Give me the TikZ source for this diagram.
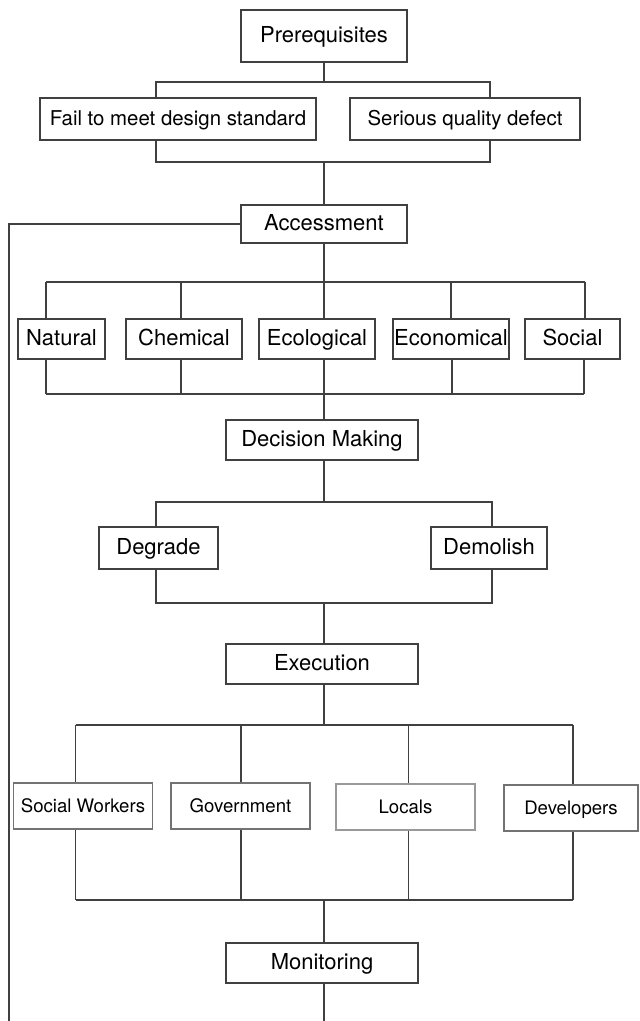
\documentclass[tikz,border=0pt]{standalone}
\usepackage{fontspec}
\setmainfont{TeX Gyre Heros}
\usetikzlibrary{calc,positioning}
\tikzset{
  box/.style={draw=black!75, line width=0.6pt, inner sep=0pt, minimum height=20pt,
    text height=1.55ex, text depth=0.35ex, font=\fontsize{11}{13}\selectfont},
  subbox/.style={box, font=\fontsize{10.2}{12}\selectfont},
  actorbox/.style={box, draw=black!55, minimum height=23pt, font=\fontsize{9.3}{11}\selectfont},
  link/.style={draw=black!75, line width=0.6pt},
}
\begin{document}
\begin{tikzpicture}[x=0.5pt,y=-0.5pt]
\useasboundingbox (0,0) rectangle (640,1021);
% boxes
\node[box, minimum width=83pt, minimum height=26pt] (pre) at (324,36) {Prerequisites};
\node[subbox, minimum width=138pt, minimum height=21pt] (fail) at (178,119) {Fail to meet design standard};
\node[subbox, minimum width=115pt, minimum height=21pt] (ser) at (465,119) {Serious quality defect};
\node[box, minimum width=83pt, minimum height=19pt] (acc) at (324,224) {Accessment};
\node[box, minimum width=43.5pt] (nat) at (61.5,339) {Natural};
\node[box, minimum width=58pt] (chem) at (184,339) {Chemical};
\node[box, minimum width=58pt] (eco) at (317,339) {Ecological};
\node[box, minimum width=58pt] (econ) at (451,339) {Economical};
\node[box, minimum width=47.5pt] (soc) at (572.5,339) {Social};
\node[box, minimum width=96pt] (dec) at (322,440) {Decision Making};
\node[box, minimum width=59.5pt, minimum height=21pt] (deg) at (158.5,548) {Degrade};
\node[box, minimum width=58pt, minimum height=21pt] (dem) at (489,548) {Demolish};
\node[box, minimum width=96pt] (exe) at (322,664) {Execution};
\node[actorbox, minimum width=69.5pt] (sw) at (83,806) {Social Workers};
\node[actorbox, minimum width=69.5pt] (gov) at (240.5,806) {Government};
\node[actorbox, draw=black!40, minimum width=69.5pt] (loc) at (405.5,807) {Locals};
\node[actorbox, minimum width=67pt] (dev) at (571,808) {Developers};
\node[box, minimum width=96pt] (mon) at (322,963) {Monitoring};
% bus points on the main line
\coordinate (t1) at (324,82);  \coordinate (u1) at (324,162);
\coordinate (t2) at (324,282); \coordinate (u2) at (324,394);
\coordinate (t3) at (324,502); \coordinate (u3) at (324,603);
\coordinate (t4) at (324,725); \coordinate (u4) at (324,900);
\coordinate (tail) at (324,1021);
\coordinate (back) at (9,1021);
% level 1
\draw[link] (pre.south) -- (t1);
\draw[link] (156,82 |- fail.north) |- (t1) -| (490,82 |- ser.north);
\draw[link] (156,82 |- fail.south) |- (u1) -| (490,82 |- ser.south);
\draw[link] (u1) -- (u1 |- acc.north);
\draw[link] (acc.west) -| (back);
% level 2
\draw[link] (acc.south) -- (t2);
\draw[link] (46,0 |- t2) -- (585,0 |- t2);
\draw[link] (46,0 |- u2) -- (584,0 |- u2);
\foreach \x/\n in {46/nat,181/chem,324/eco,451/econ,585/soc}
  \draw[link] (\x,0 |- t2) -- (\x,0 |- \n.north);
\foreach \x/\n in {46/nat,181/chem,324/eco,452/econ,584/soc}
  \draw[link] (\x,0 |- \n.south) -- (\x,0 |- u2);
\draw[link] (u2) -- (u2 |- dec.north);
% level 3
\draw[link] (t3 |- dec.south) -- (t3);
\draw[link] (156,0 |- deg.north) |- (t3) -| (492,0 |- dem.north);
\draw[link] (156,0 |- deg.south) |- (u3) -| (492,0 |- dem.south);
\draw[link] (u3) -- (u3 |- exe.north);
% level 4
\draw[link] (t4 |- exe.south) -- (t4);
\draw[link] (75.5,0 |- t4) -- (573,0 |- t4);
\draw[link] (75.5,0 |- u4) -- (573,0 |- u4);
\foreach \x/\n in {75.5/sw,241/gov,408.5/loc,573/dev}{
  \draw[link] (\x,0 |- t4) -- (\x,0 |- \n.north);
  \draw[link] (\x,0 |- \n.south) -- (\x,0 |- u4);
}
\draw[link] (u4) -- (u4 |- mon.north);
\draw[link] (tail |- mon.south) -- (tail);
\end{tikzpicture}
\end{document}
